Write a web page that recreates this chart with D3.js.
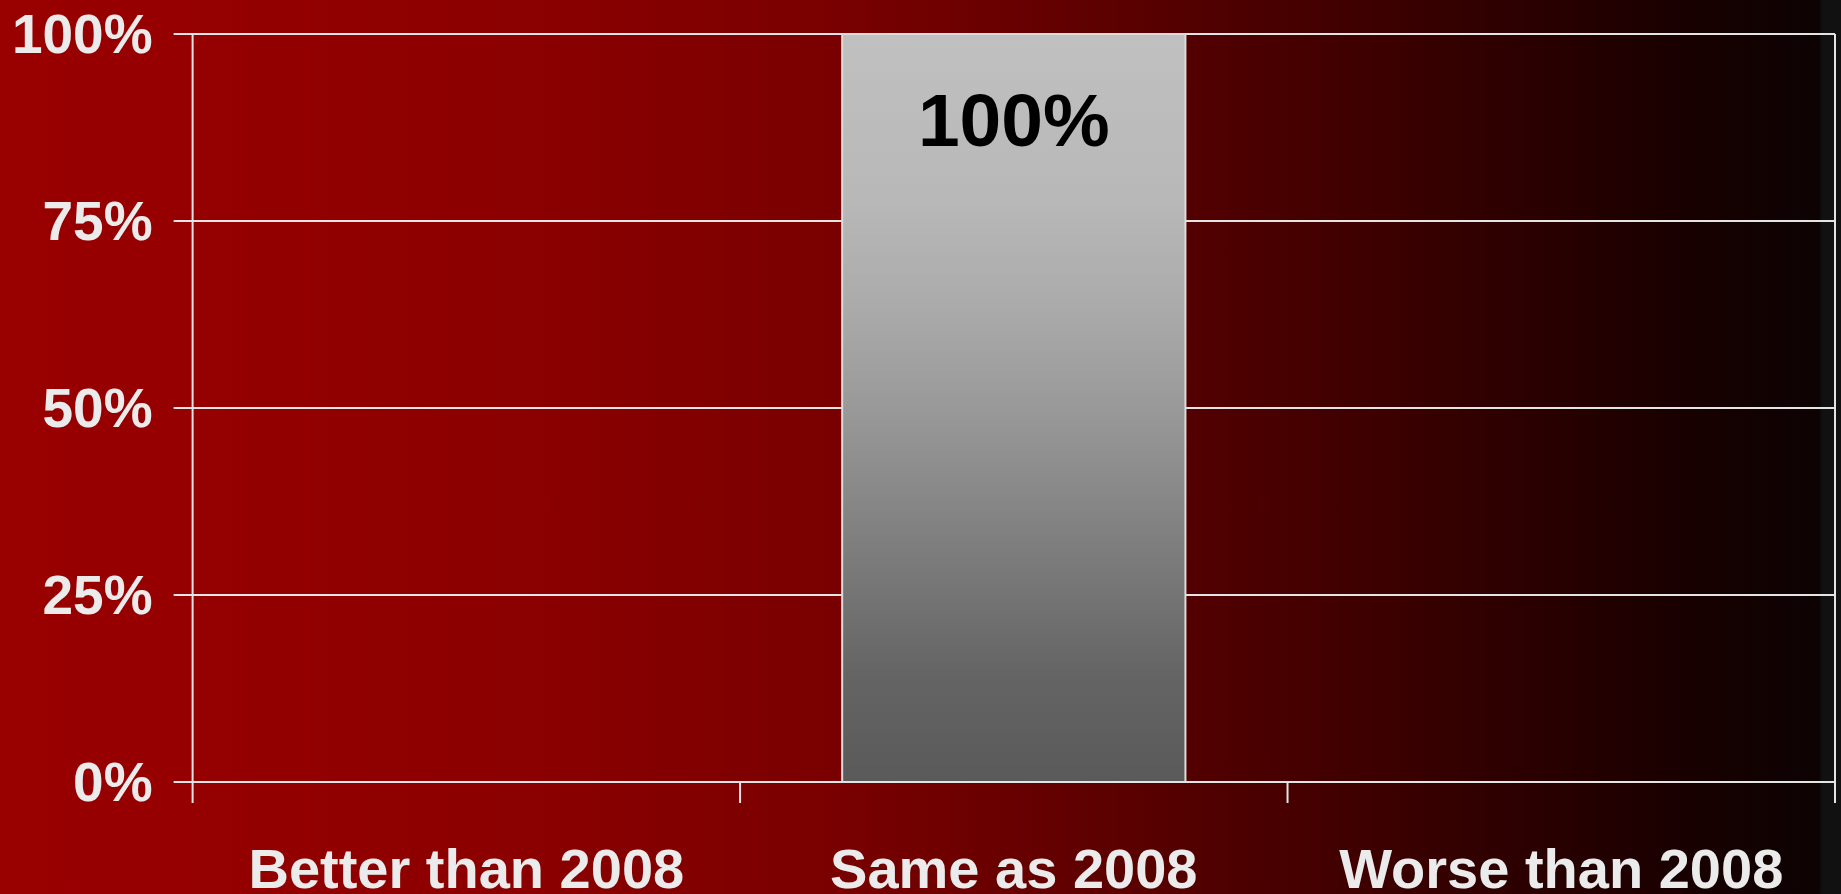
<!DOCTYPE html>
<html>
<head>
<meta charset="utf-8">
<script src="https://cdn.jsdelivr.net/npm/d3@7"></script>
<style>
  body { margin: 0; background: #111; overflow: hidden; }
  text { font-family: "Liberation Sans", Arial, sans-serif; font-weight: bold; }
</style>
</head>
<body>
<div id="chart"></div>
<script>
// chart data
var categories = ["Better than 2008", "Same as 2008", "Worse than 2008"];
var shares = [0, 1, 0];
var yTicks = [0, 0.25, 0.5, 0.75, 1];

var W = 1841, H = 894;
var margin = {top: 34, right: 6, bottom: 112, left: 192.6};

var svg = d3.select("#chart")
  .append("svg")
  .attr("width", W)
  .attr("height", H);

var defs = svg.append("defs");

// background: red fading into black towards the right
var bg = defs.append("linearGradient")
  .attr("id", "bg")
  .attr("x1", "0").attr("x2", "1").attr("y1", "0").attr("y2", "0");
[[0, "#990000"], [0.1, "#960000"], [0.3, "#8a0000"], [0.45, "#7a0000"],
 [0.55, "#680000"], [0.65, "#520000"], [0.8, "#320000"], [0.92, "#180000"],
 [0.988, "#0d0303"], [0.99, "#111111"], [1, "#111111"]]
  .forEach(function(s) {
    bg.append("stop").attr("offset", s[0]).attr("stop-color", s[1]);
  });

// bar fill: light grey to dark grey
var barGrad = defs.append("linearGradient")
  .attr("id", "bar")
  .attr("x1", "0").attr("x2", "0").attr("y1", "0").attr("y2", "1");
[[0, "#c0c0c0"], [0.22, "#b8b8b8"], [0.36, "#ababab"], [0.5, "#999999"],
 [0.86, "#646464"], [1, "#5a5a5a"]]
  .forEach(function(s) {
    barGrad.append("stop").attr("offset", s[0]).attr("stop-color", s[1]);
  });

svg.append("rect")
  .attr("width", W)
  .attr("height", H)
  .attr("fill", "url(#bg)");

var x = d3.scaleBand()
  .domain(categories)
  .range([margin.left, W - margin.right])
  .paddingInner(0.373)
  .paddingOuter(0.1865);

var y = d3.scaleLinear()
  .domain([0, 1])
  .range([H - margin.bottom, margin.top]);

var x0 = margin.left, x1 = W - margin.right;
var lineColor = "#e4e4e4";

// gridlines
svg.append("g")
  .selectAll("line")
  .data(yTicks)
  .enter().append("line")
  .attr("x1", x0 - 19)
  .attr("x2", x1)
  .attr("y1", d => y(d))
  .attr("y2", d => y(d))
  .attr("stroke", lineColor)
  .attr("stroke-width", 2);

// y labels
svg.append("g")
  .selectAll("text")
  .data(yTicks)
  .enter().append("text")
  .attr("x", x0 - 40)
  .attr("y", d => y(d))
  .attr("dy", "0.35em")
  .attr("text-anchor", "end")
  .attr("fill", "#ebebeb")
  .style("font-size", "55px")
  .text(d3.format(".0%"));

// bars
var data = categories.map((c, i) => ({cat: c, v: shares[i]})).filter(d => d.v > 0);

svg.append("g")
  .selectAll("rect")
  .data(data)
  .enter().append("rect")
  .attr("x", d => x(d.cat))
  .attr("y", d => y(d.v))
  .attr("width", x.bandwidth())
  .attr("height", d => y(0) - y(d.v))
  .attr("fill", "url(#bar)")
  .attr("stroke", "#dcdcdc")
  .attr("stroke-width", 2);

svg.append("g")
  .selectAll("text")
  .data(data)
  .enter().append("text")
  .attr("x", d => x(d.cat) + x.bandwidth() / 2)
  .attr("y", d => y(d.v) + 112)
  .attr("text-anchor", "middle")
  .attr("fill", "#000")
  .style("font-size", "75px")
  .text(d => d3.format(".0%")(d.v));

// axis lines and ticks at category boundaries
svg.append("line")
  .attr("x1", x0).attr("x2", x0)
  .attr("y1", y(1)).attr("y2", y(0) + 21)
  .attr("stroke", lineColor).attr("stroke-width", 2);
svg.append("line")
  .attr("x1", x1).attr("x2", x1)
  .attr("y1", y(1)).attr("y2", y(0) + 21)
  .attr("stroke", lineColor).attr("stroke-width", 2);
svg.append("line")
  .attr("x1", x0).attr("x2", x1)
  .attr("y1", y(0)).attr("y2", y(0))
  .attr("stroke", lineColor).attr("stroke-width", 2);

var bounds = d3.range(1, categories.length).map(i => x0 + i * x.step());
svg.append("g")
  .selectAll("line")
  .data(bounds)
  .enter().append("line")
  .attr("x1", d => d).attr("x2", d => d)
  .attr("y1", y(0)).attr("y2", y(0) + 21)
  .attr("stroke", lineColor).attr("stroke-width", 2);

// category labels
svg.append("g")
  .selectAll("text")
  .data(categories)
  .enter().append("text")
  .attr("x", d => x(d) + x.bandwidth() / 2)
  .attr("y", y(0) + 106)
  .attr("text-anchor", "middle")
  .attr("fill", "#ebebeb")
  .style("font-size", "56px")
  .text(d => d);
</script>
</body>
</html>
